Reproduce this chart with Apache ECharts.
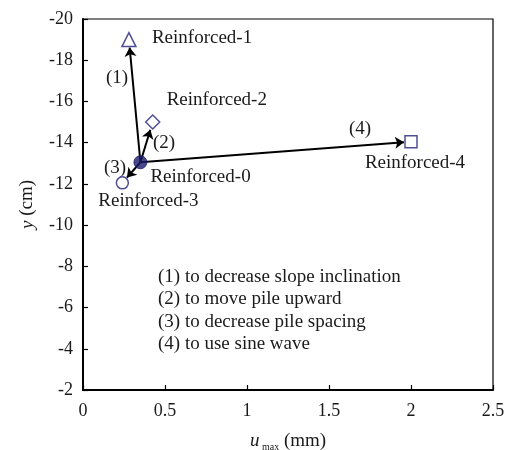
<!DOCTYPE html>
<html><head><meta charset="utf-8">
<script src="https://cdn.jsdelivr.net/npm/echarts@6/dist/echarts.min.js"></script>
<style>html,body{margin:0;padding:0;background:#fff}#c{width:511px;height:450px}</style>
</head><body><div id="c"></div>
<script>
var names = ['Reinforced-0','Reinforced-1','Reinforced-2','Reinforced-3','Reinforced-4'];
var uMax = [0.35, 0.28, 0.425, 0.24, 2.0];
var yVals = [-13.05, -19.0, -15.0, -12.05, -14.05];
var arrowLabels = ['(1)','(2)','(3)','(4)'];
var notes = ['(1) to decrease slope inclination','(2) to move pile upward','(3) to decrease pile spacing','(4) to use sine wave'];
var xTicks = [0, 0.5, 1, 1.5, 2, 2.5];
var yTicks = [-20,-18,-16,-14,-12,-10,-8,-6,-4,-2];

var FONT = '"Liberation Serif", "DejaVu Serif", serif';
var TXT = '#1a1a1a';
var NAVY = '#23237a';
var symbols = ['circle','triangle','diamond','circle','rect'];
var sizes = [13, 14, 14, 12, 12];
var labelOff = [[10,15],[23,-2],[14,-22],[-24,18],[4,21]];
var labelAlign = ['left','left','left','left','center'];
var arrowLabelPos = [[117,78],[164,143],[115,168],[360,129]];

var chart = echarts.init(document.getElementById('c'), null, {renderer:'canvas'});

var series = names.map(function(n,i){
  return {
    type:'scatter', name:n, z:5,
    data:[[uMax[i], yVals[i]]],
    symbol: symbols[i], symbolSize: sizes[i],
    itemStyle: i===0 ? {color:'#1c1c6a', borderColor:'#1c1c6a', borderWidth:1} : {color:'#fff', borderColor:NAVY, borderWidth:1.5},
    label:{show:true, formatter:n, position:'inside', align:labelAlign[i], verticalAlign:'middle',
      offset: labelOff[i], color:TXT, opacity:1, textBorderWidth:0, fontFamily:FONT, fontSize:19},
    emphasis:{disabled:true}
  };
});
series.push({type:'lines', id:'arrows', coordinateSystem:'cartesian2d', z:3,
  symbol:['none','arrow'], symbolSize:9,
  lineStyle:{color:'#000', width:2, opacity:1}, data:[]});

var graphics = arrowLabels.map(function(t,i){
  return {type:'text', x:arrowLabelPos[i][0], y:arrowLabelPos[i][1],
    style:{text:t, font:'19px '+FONT, fill:TXT, textAlign:'center', textVerticalAlign:'middle'}};
});
notes.forEach(function(t,i){
  graphics.push({type:'text', x:158, y:277+22.3*i,
    style:{text:t, font:'19px '+FONT, fill:TXT, textAlign:'left', textVerticalAlign:'middle'}});
});

chart.setOption({
  animation:false,
  grid:{left:83, right:18, top:19, bottom:60, outerBoundsMode:'none', containLabel:false,
    show:true, borderColor:'#000', borderWidth:1.2},
  xAxis:{type:'value', min:xTicks[0], max:xTicks[xTicks.length-1], interval:0.5,
    axisLine:{show:true, lineStyle:{color:'#000', width:2}},
    axisTick:{show:true, inside:true, length:5, lineStyle:{color:'#000', width:1.2}},
    splitLine:{show:false},
    axisLabel:{color:TXT, fontFamily:FONT, fontSize:18, margin:12},
    name:'{i|u}{s| max}{n| (mm)}', nameLocation:'middle', nameGap:40,
    nameTextStyle:{rich:{
      i:{fontFamily:FONT, fontStyle:'italic', fontSize:19, color:TXT},
      s:{fontFamily:FONT, fontSize:10, color:TXT, padding:[12,0,0,0]},
      n:{fontFamily:FONT, fontSize:19, color:TXT}}}
  },
  yAxis:{type:'value', inverse:true, min:yTicks[0], max:yTicks[yTicks.length-1], interval:2,
    axisLine:{show:true, lineStyle:{color:'#000', width:2}},
    axisTick:{show:true, inside:true, length:5, lineStyle:{color:'#000', width:1.2}},
    splitLine:{show:false},
    axisLabel:{color:TXT, fontFamily:FONT, fontSize:18, margin:10},
    name:'{i|y}{n| (cm)}', nameLocation:'middle', nameGap:46,
    nameTextStyle:{rich:{
      i:{fontFamily:FONT, fontStyle:'italic', fontSize:19, color:TXT},
      n:{fontFamily:FONT, fontSize:19, color:TXT}}}
  },
  graphic: graphics,
  series: series
});

var p0 = chart.convertToPixel({gridIndex:0}, [uMax[0], yVals[0]]);
var arrowData = [];
for (var i=1;i<names.length;i++){
  var p = chart.convertToPixel({gridIndex:0}, [uMax[i], yVals[i]]);
  var dx = p[0]-p0[0], dy = p[1]-p0[1], len = Math.sqrt(dx*dx+dy*dy);
  var r = sizes[i]/2 + 1;
  var end = [p[0]-dx/len*r, p[1]-dy/len*r];
  arrowData.push({coords:[[uMax[0], yVals[0]], chart.convertFromPixel({gridIndex:0}, end)]});
}
chart.setOption({series:[{id:'arrows', data:arrowData}]});
</script></body></html>
